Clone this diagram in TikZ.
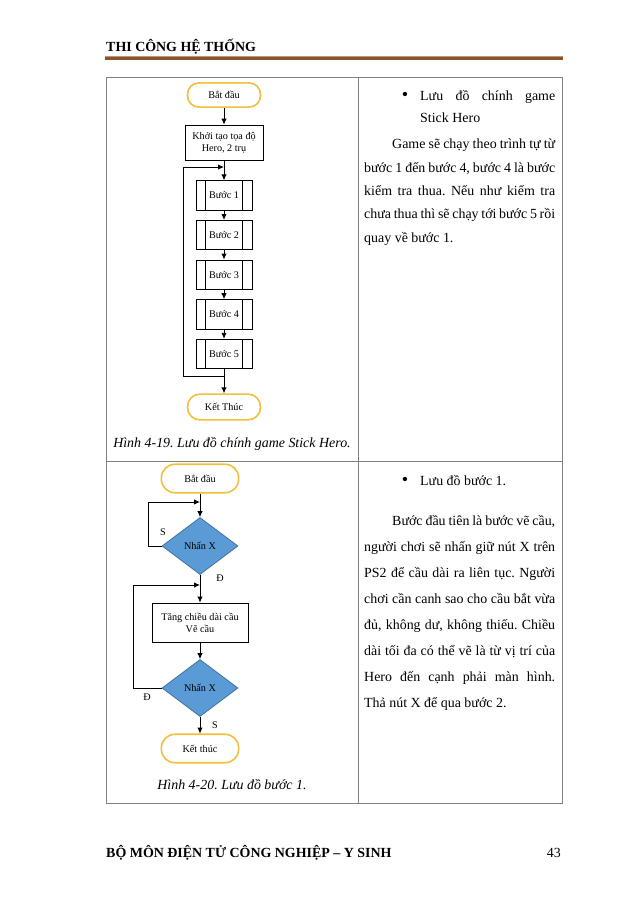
\documentclass[tikz,border=0pt]{standalone}
\usepackage{fontspec}
\setmainfont{Liberation Serif}
\usetikzlibrary{shapes.geometric,arrows.meta}
\definecolor{goldline}{RGB}{240,192,60}
\definecolor{diafill}{RGB}{91,155,213}
\definecolor{diadraw}{RGB}{65,113,156}
\definecolor{tblgray}{RGB}{128,128,128}
\definecolor{rulebrown}{RGB}{140,84,42}
\newcommand{\jline}[2]{\makebox[#1][s]{#2}}
\frenchspacing
\begin{document}
\begin{tikzpicture}[x=0.9326pt,y=-0.9326pt,
  chart/.style={font=\fontsize{9.5pt}{11pt}\selectfont, inner sep=0pt, align=center},
  terminal/.style={chart, draw=goldline, line width=1.5pt, rounded corners=10.5pt, minimum width=68pt, minimum height=22.5pt},
  bigterminal/.style={terminal, rounded corners=12.5pt, minimum width=72pt, minimum height=26.5pt},
  procbox/.style={chart, draw, line width=0.8pt},
  substep/.style={procbox, minimum width=52.2pt, minimum height=27.5pt,
    path picture={\draw[line width=0.8pt] ([xshift=8.6pt]path picture bounding box.north west) -- ([xshift=8.6pt]path picture bounding box.south west);
      \draw[line width=0.8pt] ([xshift=-8.6pt]path picture bounding box.north east) -- ([xshift=-8.6pt]path picture bounding box.south east);}},
  decision/.style={chart, diamond, draw=diadraw, fill=diafill, line width=0.7pt, aspect=1.33, minimum width=70.9pt, minimum height=53.2pt},
  flow/.style={line width=0.8pt, -{Latex[length=5.5pt,width=5pt]}},
  lbl/.style={chart},
  body/.style={font=\fontsize{13pt}{15pt}\selectfont, inner sep=0pt, anchor=base west},
  caption/.style={body, anchor=base, font=\fontsize{13pt}{15pt}\selectfont\itshape},
  header/.style={body, font=\fontsize{13pt}{15pt}\selectfont\bfseries}]
\fill[white] (0,0) rectangle (638,903);
\useasboundingbox (0,0) rectangle (638,903);
\node[header] (head) at (106,52) {THI CÔNG HỆ THỐNG};
\fill[rulebrown] (105,56.5) rectangle (563,60);
\fill[rulebrown!60!white] (105,56.5) rectangle (563,57.3);
\draw[tblgray, line width=0.9pt] (106,77) rectangle (562,803);
\draw[tblgray, line width=0.9pt] (358,77) -- (358,803);
\draw[tblgray, line width=0.9pt] (106,461) -- (562,461);
\node[terminal] (start1) at (224,95) {Bắt đầu};
\node[procbox, minimum width=72.7pt, minimum height=32.6pt] (init) at (224,142.5) {Khởi tạo tọa độ\\Hero, 2 trụ};
\foreach \i in {1,...,5}
  \node[substep] (step\i) at (224,{195.5+(\i-1)*39.6}) {Bước \i};
\node[terminal, minimum height=24pt, rounded corners=11.5pt] (end1) at (224,407) {Kết Thúc};
\draw[flow] (start1) -- (init);
\draw[flow] (init) -- (step1);
\foreach \i [evaluate=\i as \j using int(\i+1)] in {1,...,4}
  \draw[flow] (step\i) -- (step\j);
\draw[flow] (step5) -- (end1);
\coordinate (back1) at (224,167);
\coordinate (join1) at (224,376);
\draw[flow] (join1) -- ++(-41,0) |- (back1);
\node[caption] (cap1) at (232,447) {Hình 4-19. Lưu đồ chính game Stick Hero.};
\node[body, anchor=base] (dot1) at (405,101) {\scalebox{1.3}{\textbullet}};
\node[body] (item1) at (420,101) {\jline{125.9pt}{Lưu đồ chính game}};
\node[body] (item1b) at (420,123) {Stick Hero};
\node[body] (para1) at (392,149) {\jline{152pt}{Game sẽ chạy theo trình tự từ}};
\foreach \ln [count=\i] in {{bước 1 đến bước 4, bước 4 là bước},{kiểm tra thua. Nếu như kiểm tra},{chưa thua thì sẽ chạy tới bước 5 rồi}}
  \node[body] (para1l\i) at (364,{149+\i*23.3}) {\jline{178.1pt}{\ln}};
\node[body] (para1e) at (364,242.2) {quay về bước 1.};
\node[bigterminal] (start2) at (200,478.5) {Bắt đầu};
\node[decision] (press1) at (200,546) {Nhấn X};
\node[procbox, minimum width=89.5pt, minimum height=36.4pt] (grow) at (200,622.5) {Tăng chiều dài cầu\\Vẽ cầu};
\node[decision] (press2) at (200,688) {Nhấn X};
\node[bigterminal] (end2) at (200,748.5) {Kết thúc};
\draw[flow] (start2) -- (press1);
\draw[flow] (press1) -- (grow);
\draw[flow] (grow) -- (press2);
\draw[flow] (press2) -- (end2);
\coordinate (back2) at (200,502);
\coordinate (back3) at (200,585);
\draw[flow] (press1.west) -- ++(-13,0) |- (back2);
\draw[flow] (press2.west) -- ++(-28,0) |- (back3);
\node[lbl] (s1) at (163,532) {S};
\node[lbl] (d1) at (220,578) {Đ};
\node[lbl] (d2) at (147,697) {Đ};
\node[lbl] (s2) at (215,725) {S};
\node[caption] (cap2) at (232,789) {Hình 4-20. Lưu đồ bước 1.};
\node[body, anchor=base] (dot2) at (405,485) {\scalebox{1.3}{\textbullet}};
\node[body] (item2) at (420,485) {Lưu đồ bước 1.};
\node[body] (para2) at (392,525) {\jline{152pt}{Bước đầu tiên là bước vẽ cầu,}};
\foreach \ln [count=\i] in {{người chơi sẽ nhấn giữ nút X trên},{PS2 để cầu dài ra liên tục. Người},{chơi cần canh sao cho cầu bắt vừa},{đủ, không dư, không thiếu. Chiều},{dài tối đa có thể vẽ là từ vị trí của},{Hero đến cạnh phải màn hình.}}
  \node[body] (para2l\i) at (364,{525+\i*26}) {\jline{178.1pt}{\ln}};
\node[body] (para2e) at (364,707) {Thả nút X để qua bước 2.};
\node[header] (foot) at (106,857) {BỘ MÔN ĐIỆN TỬ CÔNG NGHIỆP – Y SINH};
\node[body, anchor=base east] (page) at (561,857) {43};
\end{tikzpicture}
\end{document}
